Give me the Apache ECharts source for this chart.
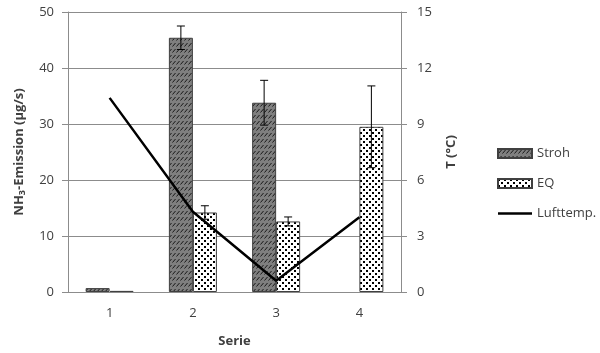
<!DOCTYPE html>
<html>
<head>
<meta charset="utf-8">
<script src="https://cdn.jsdelivr.net/npm/echarts@6/dist/echarts.min.js"></script>
<style>
  html, body { margin: 0; padding: 0; background: #fff; }
  #chart { width: 600px; height: 353px; }
</style>
</head>
<body>
<div id="chart"></div>
<script>
// data
var categories = ['1', '2', '3', '4'];
var stroh = [0.7, 45.4, 33.8, null];
var strohErr = [null, 2.1, 4.0, null];
var eq = [0.2, 14.2, 12.6, 29.5];
var eqErr = [null, 1.2, 0.8, 7.3];
var lufttemp = [10.4, 4.3, 0.6, 4.0];

var textColor = '#404040';
var gridColor = '#8c8c8c';
var fontFamily = '"Open Sans", Lato, sans-serif';

// fill patterns
function makePattern(w, h, draw) {
  var c = document.createElement('canvas');
  c.width = w; c.height = h;
  draw(c.getContext('2d'));
  return c;
}
var strohPattern = makePattern(4, 6, function (ctx) {
  ctx.fillStyle = '#7f7f7f';
  ctx.fillRect(0, 0, 4, 6);
  ctx.strokeStyle = '#1a1a1a';
  ctx.lineWidth = 1;
  ctx.beginPath();
  ctx.moveTo(0.5, 4.5);
  ctx.lineTo(3.5, 1);
  ctx.stroke();
});
var eqPattern = makePattern(6, 6, function (ctx) {
  ctx.fillStyle = '#ffffff';
  ctx.fillRect(0, 0, 6, 6);
  ctx.fillStyle = '#000000';
  ctx.fillRect(0, 0, 2, 2);
  ctx.fillRect(3, 3, 2, 2);
});

function errorSeries(values, errs, offset) {
  var data = [];
  values.forEach(function (v, i) {
    if (v != null && errs[i] != null) data.push([i, v - errs[i], v + errs[i]]);
  });
  return {
    type: 'custom',
    yAxisIndex: 0,
    z: 5,
    silent: true,
    data: data,
    renderItem: function (params, api) {
      var hi = api.coord([api.value(0), api.value(2)]);
      var lo = api.coord([api.value(0), api.value(1)]);
      var x = hi[0] + offset;
      var cap = 4;
      var style = { stroke: '#000', lineWidth: 1 };
      return {
        type: 'group',
        children: [
          { type: 'line', shape: { x1: x, y1: hi[1], x2: x, y2: lo[1] }, style: style },
          { type: 'line', shape: { x1: x - cap, y1: hi[1], x2: x + cap, y2: hi[1] }, style: style },
          { type: 'line', shape: { x1: x - cap, y1: lo[1], x2: x + cap, y2: lo[1] }, style: style }
        ]
      };
    }
  };
}

var chart = echarts.init(document.getElementById('chart'), null, { renderer: 'canvas' });

chart.setOption({
  animation: false,
  textStyle: { fontFamily: fontFamily },
  grid: { left: 68, right: 199, top: 12, bottom: 61 },
  legend: {
    orient: 'vertical',
    left: 492,
    top: 142,
    itemGap: 17,
    itemWidth: 34,
    itemHeight: 9,
    symbolKeepAspect: true,
    textStyle: { color: textColor, fontSize: 13, fontFamily: fontFamily },
    data: [
      { name: 'Stroh', icon: 'rect' },
      { name: 'EQ', icon: 'rect' },
      { name: 'Lufttemp.', icon: 'path://M0,0H34V2.5H0Z', itemStyle: { color: '#000', borderWidth: 0 } }
    ]
  },
  xAxis: {
    type: 'category',
    data: categories,
    name: 'Serie',
    nameLocation: 'middle',
    nameGap: 43,
    nameTextStyle: { color: textColor, fontSize: 13, fontWeight: 'bold' },
    axisLine: { lineStyle: { color: gridColor } },
    axisTick: { lineStyle: { color: gridColor }, length: 5 },
    axisLabel: { color: textColor, fontSize: 13, margin: 15 }
  },
  yAxis: [
    {
      type: 'value',
      min: 0, max: 50, interval: 10,
      name: '{a|NH}{s|3}{a|-Emission (µg/s)}',
      nameLocation: 'middle',
      nameRotate: 90,
      nameGap: 41,
      nameTextStyle: {
        rich: {
          a: { color: textColor, fontSize: 13, fontWeight: 'bold', fontFamily: fontFamily },
          s: { color: textColor, fontSize: 9, fontWeight: 'bold', fontFamily: fontFamily, padding: [6, 0, 0, 0] }
        }
      },
      axisLine: { show: true, lineStyle: { color: gridColor } },
      axisTick: { show: true, length: 6, lineStyle: { color: gridColor } },
      axisLabel: { color: textColor, fontSize: 13, margin: 14 },
      splitLine: { lineStyle: { color: gridColor } }
    },
    {
      type: 'value',
      min: 0, max: 15, interval: 3,
      position: 'right',
      name: 'T (°C)',
      nameLocation: 'middle',
      nameRotate: 90,
      nameGap: 44,
      nameTextStyle: { color: textColor, fontSize: 13, fontWeight: 'bold' },
      axisLine: { show: true, lineStyle: { color: gridColor } },
      axisTick: { show: true, length: 6, lineStyle: { color: gridColor } },
      axisLabel: { color: textColor, fontSize: 13, margin: 16 },
      splitLine: { show: false }
    }
  ],
  series: [
    {
      name: 'Stroh',
      type: 'bar',
      data: stroh,
      barWidth: 24,
      barGap: '0%',
      itemStyle: {
        color: { image: strohPattern, repeat: 'repeat' },
        borderColor: '#404040',
        borderWidth: 1
      }
    },
    {
      name: 'EQ',
      type: 'bar',
      data: eq,
      barWidth: 24,
      barGap: '0%',
      itemStyle: {
        color: { image: eqPattern, repeat: 'repeat' },
        borderColor: '#404040',
        borderWidth: 1
      }
    },
    {
      name: 'Lufttemp.',
      type: 'line',
      yAxisIndex: 1,
      data: lufttemp,
      symbol: 'none',
      z: 4,
      lineStyle: { color: '#000', width: 2.5 },
      itemStyle: { color: '#000' }
    },
    errorSeries(stroh, strohErr, -12),
    errorSeries(eq, eqErr, 12)
  ]
});

window.addEventListener('resize', chart.resize);
</script>
</body>
</html>
